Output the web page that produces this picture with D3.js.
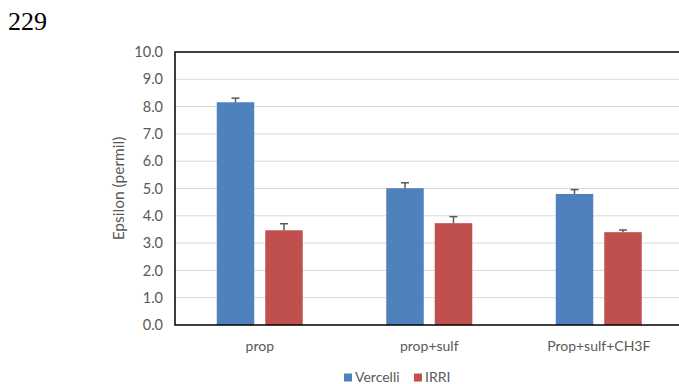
<!DOCTYPE html>
<html>
<head>
<meta charset="utf-8">
<script src="https://cdn.jsdelivr.net/npm/d3@7"></script>
<style>
  html, body { margin: 0; padding: 0; background: #fff; }
  svg { display: block; }
  text { font-family: Lato, "Open Sans", sans-serif; }
</style>
</head>
<body>
<svg id="chart" width="679" height="384"></svg>
<script>
// Fractionation factors per treatment and soil
const categories = ["prop", "prop+sulf", "Prop+sulf+CH3F"];
const series = ["Vercelli", "IRRI"];
const vercelli = [8.16, 5.01, 4.80];
const irri = [3.47, 3.73, 3.40];
const vercelliErr = [0.15, 0.20, 0.16];
const irriErr = [0.24, 0.24, 0.08];
const yTicks = [0, 1, 2, 3, 4, 5, 6, 7, 8, 9, 10];
const colors = ["#4F81BD", "#C0504D"];

const values = [vercelli, irri];
const errors = [vercelliErr, irriErr];

const svg = d3.select("#chart");
const plot = { left: 175, right: 683.5, top: 52, bottom: 325 };

const x0 = d3.scaleBand().domain(categories).range([plot.left, plot.right]).paddingInner(0).paddingOuter(0);
const x1 = d3.scaleBand().domain(series).range([-43, 43]).paddingInner(11 / 48.5).paddingOuter(0);
const y = d3.scaleLinear().domain([0, 10]).range([plot.bottom, plot.top]);

// Page number
svg.append("text").attr("x", 8).attr("y", 30)
  .style("font-family", "'Liberation Serif', 'Times New Roman', serif")
  .style("font-size", "26px").attr("fill", "#000").text("229");

// Gridlines
svg.append("g").selectAll("line").data(yTicks.filter(d => d > 0 && d < 10)).join("line")
  .attr("x1", plot.left).attr("x2", plot.right)
  .attr("y1", d => y(d)).attr("y2", d => y(d))
  .attr("stroke", "#d9d9d9").attr("stroke-width", 1);

// Y axis labels
const yAxis = d3.axisLeft(y).tickValues(yTicks).tickFormat(d3.format(".1f")).tickSize(0).tickPadding(12);
const gy = svg.append("g").attr("transform", `translate(${plot.left},0)`).call(yAxis);
gy.select(".domain").remove();
gy.selectAll("text").attr("fill", "#595959").style("font-size", "14.5px");

// Bars
const rows = [];
categories.forEach((c, i) => series.forEach((s, j) => rows.push({ c, s, j, v: values[j][i], e: errors[j][i] })));

svg.append("g").selectAll("rect").data(rows).join("rect")
  .attr("x", d => x0(d.c) + x0.bandwidth() / 2 + x1(d.s))
  .attr("y", d => y(d.v))
  .attr("width", x1.bandwidth())
  .attr("height", d => y(0) - y(d.v))
  .attr("fill", d => colors[d.j]);

// Error bars (upper)
const eb = svg.append("g").attr("stroke", "#595959").attr("stroke-width", 1.5);
rows.forEach(d => {
  const cx = x0(d.c) + x0.bandwidth() / 2 + x1(d.s) + x1.bandwidth() / 2;
  eb.append("line").attr("x1", cx).attr("x2", cx).attr("y1", y(d.v)).attr("y2", y(d.v + d.e));
  eb.append("line").attr("x1", cx - 4).attr("x2", cx + 4).attr("y1", y(d.v + d.e)).attr("y2", y(d.v + d.e));
});

// Plot frame
svg.append("rect").attr("x", plot.left).attr("y", plot.top)
  .attr("width", plot.right - plot.left).attr("height", plot.bottom - plot.top)
  .attr("fill", "none").attr("stroke", "#000").attr("stroke-width", 1.5);

// Category labels
const xAxis = d3.axisBottom(x0).tickSize(0).tickPadding(16);
const gx = svg.append("g").attr("transform", `translate(0,${plot.bottom})`).call(xAxis);
gx.select(".domain").remove();
gx.selectAll("text").attr("fill", "#595959").style("font-size", "14px");

// Y axis title
svg.append("text")
  .attr("transform", `translate(124,${(plot.top + plot.bottom) / 2}) rotate(-90)`)
  .attr("text-anchor", "middle").attr("fill", "#595959").style("font-size", "15.5px")
  .text("Epsilon (permil)");

// Legend
const legendX = [344, 414];
const lg = svg.append("g");
series.forEach((s, j) => {
  lg.append("rect").attr("x", legendX[j]).attr("y", 373.5).attr("width", 8).attr("height", 8).attr("fill", colors[j]);
  lg.append("text").attr("x", legendX[j] + 11).attr("y", 381.5).attr("fill", "#595959").style("font-size", "14px").text(s);
});
</script>
</body>
</html>
